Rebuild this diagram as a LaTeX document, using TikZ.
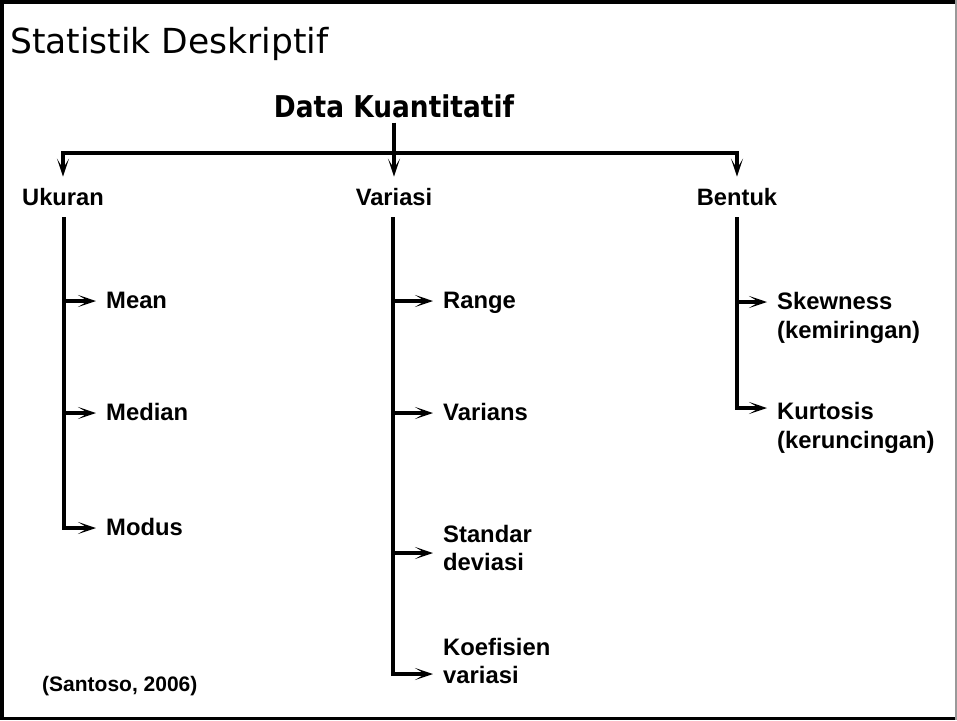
\documentclass[tikz,border=0pt]{standalone}
\usepackage{fontspec}
\setmainfont{Liberation Sans}
\newfontfamily\titlefont{DejaVu Sans}
\newfontfamily\headfont{DejaVu Sans}[FakeStretch=0.88]
\usetikzlibrary{arrows.meta}

\tikzset{
  titletext/.style={inner sep=0pt, font=\titlefont\fontsize{34.5}{38}\selectfont},
  headtext/.style={inner sep=0pt, font=\headfont\bfseries\fontsize{30}{34}\selectfont},
  cattext/.style={inner sep=0pt, font=\fontsize{23.7}{27}\selectfont\bfseries},
  leaftext/.style={inner sep=0pt, align=left, font=\fontsize{23.8}{28.5}\selectfont\bfseries},
  notetext/.style={inner sep=0pt, font=\fontsize{21}{24}\selectfont\bfseries},
  trunk/.style={line width=4.5pt},
  barbtip/.style={-{Stealth[length=18pt,width=12pt,inset=10pt]}},
  twig/.style={line width=3.5pt, barbtip, shorten >=10pt},
  drop/.style={line width=4.5pt, barbtip},
}

\begin{document}
\begin{tikzpicture}[x=1pt,y=-1pt]
  \useasboundingbox (0,0) rectangle (957,720);

  % frame
  \fill[black] (0,0) rectangle (957,3.5);
  \fill[black] (0,0) rectangle (3.5,720);
  \fill[black] (0,716.5) rectangle (957,720);
  \fill[black!40] (954.5,0) rectangle (957,720);

  % headings
  \node[titletext, anchor=base west] (title) at (10,53) {Statistik Deskriptif};
  \node[headtext, anchor=base] (data) at (394,117) {Data Kuantitatif};

  % categories
  \node[cattext, anchor=base] (ukuran)  at (63,205)  {Ukuran};
  \node[cattext, anchor=base] (variasi) at (394,205) {Variasi};
  \node[cattext, anchor=base] (bentuk)  at (737,205) {Bentuk};

  % fan-out from the top heading
  \coordinate (hub) at (394,153);
  \draw[trunk, line cap=rect] (ukuran.north |- hub) -- (bentuk.north |- hub);
  \draw[drop] ([yshift=-5pt]data.south) -- ([yshift=11pt]variasi.north);
  \draw[drop] (ukuran.north |- hub) -- ([yshift=11pt]ukuran.north);
  \draw[drop] (bentuk.north |- hub) -- ([yshift=11pt]bentuk.north);

  % leaves: Ukuran
  \node[leaftext, anchor=base west] (mean)   at (106,308) {Mean};
  \node[leaftext, anchor=base west] (median) at (106,420) {Median};
  \node[leaftext, anchor=base west] (modus)  at (106,535) {Modus};

  % leaves: Variasi
  \node[leaftext, anchor=base west] (range)   at (443,308) {Range};
  \node[leaftext, anchor=base west] (varians) at (443,420) {Varians};
  \node[leaftext, anchor=west] (stdev) at (443,548) {Standar\\deviasi};
  \node[leaftext, anchor=west] (koef)  at (443,661) {Koefisien\\variasi};

  % leaves: Bentuk
  \node[leaftext, anchor=west] (skew) at (777,318) {Skewness\\(kemiringan)};
  \node[leaftext, anchor=west] (kurt) at (777,428) {Kurtosis\\(keruncingan)};

  % stems
  \coordinate (u1) at (64,301);
  \coordinate (u2) at (64,413);
  \coordinate (u3) at (64,528);
  \draw[trunk] ([yshift=-12pt]ukuran.south -| u1) -- ([yshift=-2pt]u3);
  \draw[twig] (u1) -- (mean.west |- u1);
  \draw[twig] (u2) -- (median.west |- u2);
  \draw[twig] ([xshift=-2pt]u3) -- (modus.west |- u3);

  \coordinate (v1) at (393,301);
  \coordinate (v2) at (393,413);
  \coordinate (v3) at (393,553);
  \coordinate (v4) at (393,674);
  \draw[trunk] ([yshift=-12pt]variasi.south -| v1) -- ([yshift=-2pt]v4);
  \draw[twig] (v1) -- (range.west |- v1);
  \draw[twig] (v2) -- (varians.west |- v2);
  \draw[twig] (v3) -- (stdev.west |- v3);
  \draw[twig] ([xshift=-2pt]v4) -- (koef.west |- v4);

  \coordinate (b1) at (737,302);
  \coordinate (b2) at (737,408);
  \draw[trunk] ([yshift=-12pt]bentuk.south -| b1) -- ([yshift=-2pt]b2);
  \draw[twig] (b1) -- (skew.west |- b1);
  \draw[twig] ([xshift=-2pt]b2) -- (kurt.west |- b2);

  % source
  \node[notetext, anchor=base west] (src) at (42,691) {(Santoso, 2006)};
\end{tikzpicture}
\end{document}
